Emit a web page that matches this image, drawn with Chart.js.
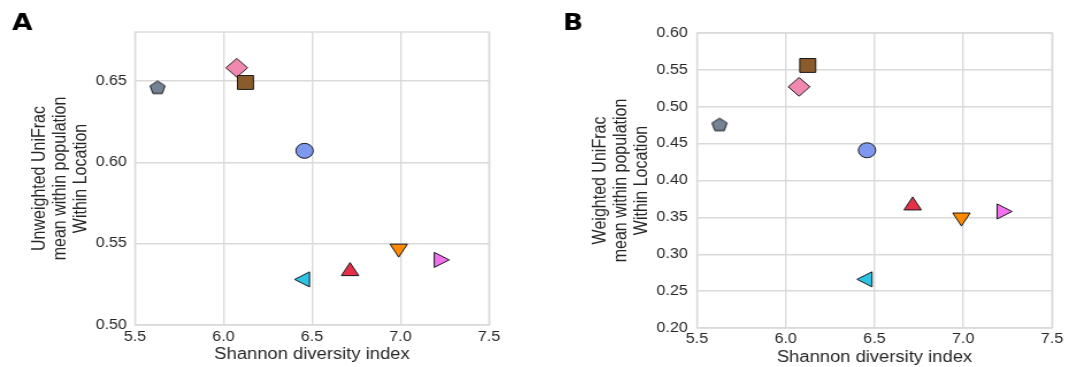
<!DOCTYPE html>
<html>
<head>
<meta charset="utf-8">
<script src="https://cdn.jsdelivr.net/npm/chart.js@4.4.1/dist/chart.umd.min.js"></script>
<style>
  html, body { margin: 0; padding: 0; background: #fff; }
  body { width: 1071px; height: 367px; position: relative; overflow: hidden; }
  /* panels are drawn narrow and widened a little, like the exported figure */
  .panel { position: absolute; top: 0; transform: scaleX(1.15); transform-origin: 0 0; }
  #panelA { left: 0; }
  #panelB { left: 540px; }
</style>
</head>
<body>
<div class="panel" id="panelA"><canvas id="chartA" width="470" height="367"></canvas></div>
<div class="panel" id="panelB"><canvas id="chartB" width="462" height="367"></canvas></div>
<script>
// one value per location group, same order in every array
const shannon    = [5.627, 6.075, 6.124, 6.458, 6.458, 6.715, 6.990, 7.219];
const unweighted = [0.646, 0.658, 0.649, 0.607, 0.528, 0.533, 0.547, 0.540];
const weighted   = [0.476, 0.527, 0.556, 0.441, 0.266, 0.366, 0.350, 0.358];

const xTicks  = [5.5, 6.0, 6.5, 7.0, 7.5];
const yTicksA = [0.50, 0.55, 0.60, 0.65];
const yTicksB = [0.20, 0.25, 0.30, 0.35, 0.40, 0.45, 0.50, 0.55, 0.60];

// marker look per group
const markerColors = ['#738394', '#f088b0', '#8a5c2c', '#7e98ee', '#2ec2e4', '#e6304a', '#ff8a00', '#f070ee'];
const markerShapes = ['pentagon', 'rectRot', 'rect', 'circle', 'triangle', 'triangle', 'triangle', 'triangle'];
const markerRotation = [0, 0, 0, 0, -90, 0, 180, 90];
const markerRadius = [7, 9.4, 9.8, 7.5, 8.7, 8.7, 8.7, 8.7];

const FONT = '"Liberation Sans", Arial, sans-serif';
const TEXT = '#262626';
const GRID = '#dadada';

function pentagon(r, fill) {
  const c = document.createElement('canvas');
  const s = 18;
  c.width = c.height = s;
  const ctx = c.getContext('2d');
  ctx.beginPath();
  for (let i = 0; i < 5; i++) {
    const a = -Math.PI / 2 + i * 2 * Math.PI / 5;
    const px = s / 2 + r * Math.cos(a);
    const py = s / 2 + 0.6 + r * Math.sin(a);
    if (i === 0) ctx.moveTo(px, py); else ctx.lineTo(px, py);
  }
  ctx.closePath();
  ctx.fillStyle = fill;
  ctx.fill();
  ctx.lineWidth = 1;
  ctx.strokeStyle = '#1a1a1a';
  ctx.stroke();
  return c;
}

const pointStyles = markerShapes.map((s, i) => s === 'pentagon' ? pentagon(6.9, markerColors[i]) : s);

// light frame round the plot area plus the panel letter
const framePlugin = {
  id: 'frame',
  beforeDatasetsDraw(chart) {
    const { ctx, chartArea: a } = chart;
    ctx.save();
    ctx.strokeStyle = GRID;
    ctx.lineWidth = 1.4;
    ctx.strokeRect(a.left, a.top, a.right - a.left, a.bottom - a.top);
    ctx.restore();
  },
  afterDraw(chart, args, opts) {
    const ctx = chart.ctx;
    ctx.save();
    ctx.fillStyle = '#000';
    ctx.font = 'bold 23px "DejaVu Sans", sans-serif';
    ctx.textBaseline = 'alphabetic';
    ctx.fillText(opts.letter, opts.x, opts.y);
    ctx.restore();
  }
};

function makeChart(id, yValues, yTicks, yMin, yMax, yTitle, box) {
  return new Chart(document.getElementById(id), {
    type: 'scatter',
    data: {
      datasets: [{
        data: shannon.map((x, i) => ({ x: x, y: yValues[i] })),
        pointStyle: pointStyles,
        pointRadius: markerRadius,
        pointRotation: markerRotation,
        backgroundColor: markerColors,
        borderColor: '#1a1a1a',
        borderWidth: 1
      }]
    },
    options: {
      responsive: false,
      animation: false,
      events: [],
      layout: { padding: { left: 0, top: box.top, right: box.right, bottom: 0 } },
      plugins: {
        legend: { display: false },
        tooltip: { enabled: false },
        frame: { letter: box.letter, x: box.letterX, y: 30 }
      },
      scales: {
        x: {
          type: 'linear',
          min: 5.5,
          max: 7.5,
          afterBuildTicks: (s) => { s.ticks = xTicks.map(v => ({ value: v })); },
          afterFit: (s) => { s.height = box.xHeight; },
          grid: { color: GRID, lineWidth: 1.4, drawTicks: false },
          border: { display: false },
          ticks: {
            padding: box.xTickPad,
            color: TEXT,
            font: { family: FONT, size: 14 },
            callback: (v) => v.toFixed(1)
          },
          title: {
            display: true,
            text: 'Shannon diversity index',
            color: TEXT,
            font: { family: FONT, size: 16 },
            padding: { top: 0, bottom: box.xTitlePad }
          }
        },
        y: {
          type: 'linear',
          min: yMin,
          max: yMax,
          afterBuildTicks: (s) => { s.ticks = yTicks.map(v => ({ value: v })); },
          afterFit: (s) => { s.width = box.yWidth; },
          grid: { color: GRID, lineWidth: 1.4, drawTicks: false },
          border: { display: false },
          ticks: {
            padding: box.yTickPad,
            color: TEXT,
            font: { family: FONT, size: 14 },
            callback: (v) => v.toFixed(2)
          },
          title: {
            display: true,
            text: yTitle,
            color: TEXT,
            font: { family: FONT, size: 16, lineHeight: 1.12 },
            padding: { top: box.yTitlePad, bottom: 0 }
          }
        }
      }
    },
    plugins: [framePlugin]
  });
}

makeChart('chartA', unweighted, yTicksA, 0.50, 0.68,
  ['Unweighted UniFrac', 'mean within population', 'Within Location'],
  { letter: 'A', letterX: 10.4, top: 32, right: 44.8, yWidth: 117.4, xHeight: 42,
    xTickPad: 4, yTickPad: 7, xTitlePad: 2.4, yTitlePad: 25.8 });

makeChart('chartB', weighted, yTicksB, 0.20, 0.60,
  ['Weighted UniFrac', 'mean within population', 'Within Location'],
  { letter: 'B', letterX: 20, top: 33, right: 16.8, yWidth: 136.5, xHeight: 39,
    xTickPad: 3, yTickPad: 8, xTitlePad: 0, yTitlePad: 44 });
</script>
</body>
</html>
